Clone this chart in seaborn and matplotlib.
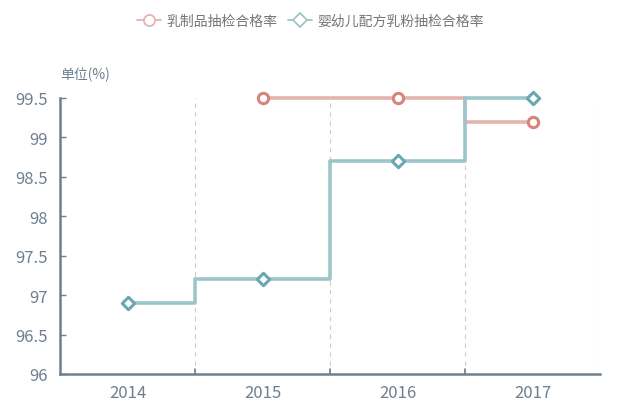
import numpy as np
import pandas as pd
import matplotlib.pyplot as plt
from matplotlib.lines import Line2D
from matplotlib.ticker import FuncFormatter
import seaborn as sns

years = ["2014", "2015", "2016", "2017"]
dairy_rate = [np.nan, 99.5, 99.5, 99.2]
formula_rate = [96.9, 97.2, 98.7, 99.5]
series_names = ["乳制品抽检合格率", "婴幼儿配方乳粉抽检合格率"]
yticks = [96, 96.5, 97, 97.5, 98, 98.5, 99, 99.5]

sns.set_style("white")
plt.rcParams["font.family"] = ["Noto Sans CJK SC", "DejaVu Sans"]

pos = np.arange(len(years))
df = pd.DataFrame({"pos": np.concatenate([pos, pos]),
                   "rate": dairy_rate + formula_rate,
                   "series": [series_names[0]] * 4 + [series_names[1]] * 4})

line_cols = ["#e6b4ae", "#9cc6c9"]
edge_cols = ["#d8837b", "#6aa8b0"]
markers = ["o", "D"]

fig = plt.figure(figsize=(6.4, 4.02), dpi=100)
ax = fig.add_axes([60 / 640, 1 - 375 / 402, 540 / 640, 276 / 402])

sns.lineplot(data=df, x="pos", y="rate", hue="series", palette=line_cols,
             drawstyle="steps-mid", linewidth=2.6, legend=False, ax=ax,
             zorder=2)
for ln in ax.get_lines():
    ln.set_clip_on(False)
for i, name in enumerate(series_names):
    sub = df[df["series"] == name]
    ax.scatter(sub["pos"], sub["rate"], marker=markers[i],
               s=55 if i == 0 else 40, facecolor="white",
               edgecolor=edge_cols[i], linewidth=2.2, zorder=4,
               clip_on=False)

ax.set_xlim(-0.5, 3.5)
ax.set_ylim(96, 99.5)
ax.set_xticks(pos)
ax.set_xticklabels(years)
ax.set_yticks(yticks)
ax.yaxis.set_major_formatter(FuncFormatter(lambda v, p: f"{v:g}"))
ax.set_xlabel("")
ax.set_ylabel("")

for b in [0.5, 1.5, 2.5, 3.5]:
    ax.axvline(b, color="#cccccc", linestyle=(0, (4, 4)), linewidth=0.8,
               zorder=1)
for b in [0.5, 1.5, 2.5]:
    ax.plot([b, b], [96, 96.06], color="#6e7f8f", linewidth=1.2,
            clip_on=False, zorder=3)

for s in ["top", "right"]:
    ax.spines[s].set_visible(False)
for s in ["left", "bottom"]:
    ax.spines[s].set_color("#6e7f8f")
    ax.spines[s].set_linewidth(1.8)

ax.tick_params(axis="x", length=0, pad=7, labelsize=12, colors="#6e7f8f")
ax.tick_params(axis="y", direction="in", length=4, width=1, pad=9,
               labelsize=12, colors="#6e7f8f", left=True)
for lab in ax.get_xticklabels() + ax.get_yticklabels():
    lab.set_color("#6e7f8f")

fig.text(60 / 640, 1 - 75 / 402, "单位(%)", ha="left", va="center",
         fontsize=10, color="#6e7f8f")

handles = [Line2D([0], [0], color=line_cols[i], marker=markers[i],
                  markerfacecolor="white", markeredgecolor=line_cols[i],
                  markersize=8 if i == 0 else 7, markeredgewidth=1.3,
                  linewidth=1.3) for i in range(2)]
fig.legend(handles, series_names, loc="center", bbox_to_anchor=(0.485, 1 - 22 / 402),
           ncol=2, frameon=False, fontsize=10, handlelength=1.7,
           columnspacing=0.8, handletextpad=0.4, labelcolor="#777777")

fig.savefig("out.png", dpi=100)
